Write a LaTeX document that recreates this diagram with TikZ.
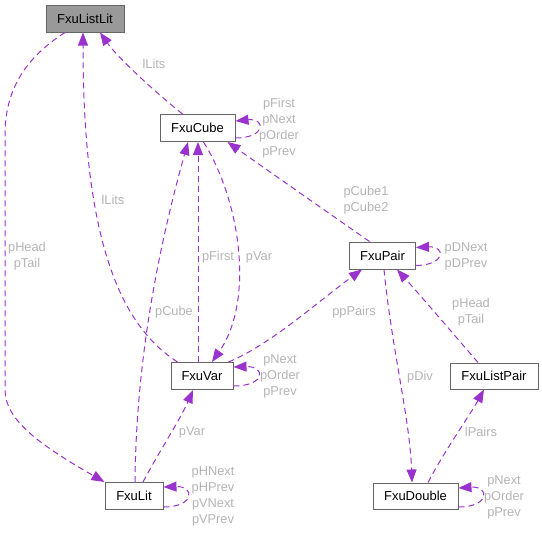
\documentclass[tikz,border=0pt]{standalone}
\usepackage{fontspec}
\setmainfont{Liberation Sans}
\usetikzlibrary{arrows.meta,calc}
\definecolor{edgec}{HTML}{9A32CD}
\definecolor{labc}{HTML}{B4B4B4}
\definecolor{boxc}{HTML}{666666}
\definecolor{fillc}{HTML}{999999}
\tikzset{
  cls/.style={draw=boxc, line width=1pt, fill=white, inner sep=0pt,
    font=\fontsize{13}{16}\selectfont, text=black},
  clsmain/.style={cls, fill=fillc},
  lab/.style={text=labc, inner sep=0pt, align=center, font=\fontsize{12.8}{16}\selectfont},
  rel/.style={draw=edgec, line width=1pt, dash pattern=on 6pt off 4pt,
    -{Triangle[length=13pt,width=10pt,fill=edgec]}}
}
\begin{document}
\begin{tikzpicture}[x=1pt,y=-1pt]
\useasboundingbox (0,0) rectangle (542,533);
% nodes
\node[clsmain, minimum width=78pt, minimum height=27pt] (listlit) at (85,18.5) {FxuListLit};
\node[cls, minimum width=75pt, minimum height=27pt] (cube) at (197.5,128) {FxuCube};
\node[cls, minimum width=66pt, minimum height=27pt] (pair) at (382.5,255.5) {FxuPair};
\node[cls, minimum width=62pt, minimum height=27pt] (var) at (202,376) {FxuVar};
\node[cls, minimum width=88pt, minimum height=26pt] (listpair) at (494,376) {FxuListPair};
\node[cls, minimum width=58pt, minimum height=27pt] (lit) at (134,496) {FxuLit};
\node[cls, minimum width=85pt, minimum height=26pt] (double) at (415.5,496) {FxuDouble};

% edges
\draw[rel] ($(listlit.south)+(-20,0)$) .. controls (30,55) and (5,85) .. (5,135)
  -- (5,390) .. controls (5,420) and (40,445) .. (lit.north west);
\draw[rel] ($(cube.north)+(-15,0)$) .. controls (155,92) and (118,58) .. ($(listlit.south)+(15,0)$);
\draw[rel] ($(var.north west)+(7,0)$) .. controls (120,325) and (83,240) .. ($(listlit.south)+(-2,0)$);
\draw[rel] ($(cube.east)+(0,10)$) .. controls (266,138) and (266,118) .. ($(cube.east)+(0,-7)$);
\draw[rel] ($(pair.north)+(-13,0)$) .. controls (330,214) and (270,172) .. ($(cube.south east)+(-8,0)$);
\draw[rel] ($(var.north)+(-4,0)$) -- ($(cube.south)+(0.5,0)$);
\draw[rel] ($(cube.south)+(6,0)$) .. controls (240,200) and (255,300) .. ($(var.north)+(10,0)$);
\draw[rel] ($(lit.north)+(1,0)$) .. controls (136,370) and (155,260) .. ($(cube.south)+(-9.5,0)$);
\draw[rel] ($(var.north east)+(-5,0)$) .. controls (270,345) and (320,300) .. ($(pair.south west)+(13,0)$);
\draw[rel] ($(var.east)+(0,10)$) .. controls (266,386) and (266,366) .. ($(var.east)+(0,-9)$);
\draw[rel] ($(lit.north)+(9,0)$) .. controls (160,450) and (180,420) .. ($(var.south)+(-9,0)$);
\draw[rel] ($(lit.east)+(0,11)$) .. controls (195,507) and (195,486) .. ($(lit.east)+(0,-9)$);
\draw[rel] ($(pair.east)+(0,10)$) .. controls (446,265) and (446,246) .. ($(pair.east)+(0,-8)$);
\draw[rel] ($(pair.south)+(1.5,0)$) .. controls (392,350) and (410,420) .. ($(double.north)+(-3.5,0)$);
\draw[rel] ($(listpair.north)+(-16,0)$) .. controls (450,330) and (420,295) .. ($(pair.south east)+(-19,0)$);
\draw[rel] ($(double.north)+(12.5,0)$) .. controls (445,450) and (470,415) .. ($(listpair.south)+(-10,0)$);
\draw[rel] ($(double.east)+(0,11)$) .. controls (490,507) and (490,486) .. ($(double.east)+(0,-8)$);

% labels
\node[lab] (l1) at (27,256) {pHead\\pTail};
\node[lab] (l2) at (154,64) {lLits};
\node[lab] (l3) at (113,200) {lLits};
\node[lab] (l4) at (279,128) {pFirst\\pNext\\pOrder\\pPrev};
\node[lab] (l5) at (366,200) {pCube1\\pCube2};
\node[lab] (l6) at (218,257) {pFirst};
\node[lab] (l7) at (259,257) {pVar};
\node[lab] (l8) at (174,312) {pCube};
\node[lab] (l9) at (354,312) {ppPairs};
\node[lab] (l10) at (280,376) {pNext\\pOrder\\pPrev};
\node[lab] (l11) at (192,432) {pVar};
\node[lab] (l12) at (213,496) {pHNext\\pHPrev\\pVNext\\pVPrev};
\node[lab] (l13) at (466,256) {pDNext\\pDPrev};
\node[lab] (l14) at (420,377) {pDiv};
\node[lab] (l15) at (471,312) {pHead\\pTail};
\node[lab] (l16) at (481,432) {lPairs};
\node[lab] (l17) at (504,497) {pNext\\pOrder\\pPrev};
\end{tikzpicture}
\end{document}
